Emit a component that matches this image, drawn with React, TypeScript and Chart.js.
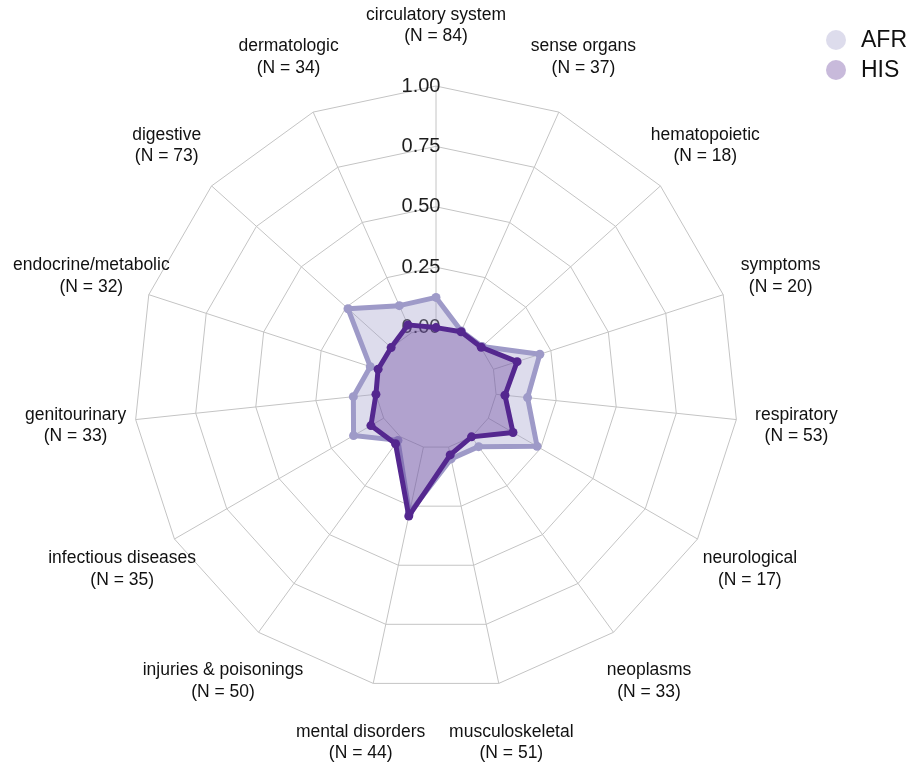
import React, { useEffect, useRef } from 'react';
import { Chart, registerables } from 'chart.js';

Chart.register(...registerables);

const categories = [
  'circulatory system',
  'sense organs',
  'hematopoietic',
  'symptoms',
  'respiratory',
  'neurological',
  'neoplasms',
  'musculoskeletal',
  'mental disorders',
  'injuries & poisonings',
  'infectious diseases',
  'genitourinary',
  'endocrine/metabolic',
  'digestive',
  'dermatologic',
];
const counts = [84, 37, 18, 20, 53, 17, 33, 51, 44, 50, 35, 33, 32, 73, 34];

const seriesNames = ['AFR', 'HIS'];
const afrValues = [0.125, 0.008, 0.007, 0.202, 0.131, 0.233, 0.05, 0.05, 0.28, 0.018, 0.144, 0.094, 0.036, 0.24, 0.123];
const hisValues = [0.0, 0.005, 0.002, 0.103, 0.037, 0.118, 0.0, 0.033, 0.292, 0.035, 0.061, 0.0, 0.002, 0.0, 0.036];

const tickValues = [0, 0.25, 0.5, 0.75, 1];
const scaleMin = -0.25;
const scaleMax = 1;

const FONT = "'Liberation Sans', Arial, Helvetica, sans-serif";
const GRID = '#c4c4c4';
const AFR_LINE = '#9e9ac8';
const AFR_FILL = 'rgba(158,154,200,0.35)';
const HIS_LINE = '#54278f';
const HIS_FILL = 'rgba(84,39,143,0.32)';

const decorPlugin = {
  id: 'radarDecor',
  beforeDatasetsDraw(chart: any) {
    const scale = chart.scales.r;
    const ctx = chart.ctx;
    const n = chart.data.labels.length;
    ctx.save();
    // spokes from the 0.00 ring to the outer ring
    ctx.strokeStyle = GRID;
    ctx.lineWidth = 1;
    for (let i = 0; i < n; i++) {
      const a = scale.getPointPositionForValue(i, 0);
      const b = scale.getPointPositionForValue(i, scaleMax);
      ctx.beginPath();
      ctx.moveTo(a.x, a.y);
      ctx.lineTo(b.x, b.y);
      ctx.stroke();
    }
    // radial tick labels
    ctx.font = `20px ${FONT}`;
    ctx.fillStyle = '#1e1e1e';
    ctx.textAlign = 'center';
    ctx.textBaseline = 'middle';
    tickValues.forEach((v) => {
      const d = scale.getDistanceFromCenterForValue(v);
      ctx.fillText(v.toFixed(2), scale.xCenter - 15, scale.yCenter - d);
    });
    // category labels
    ctx.font = `17.5px ${FONT}`;
    ctx.fillStyle = '#111';
    const lh = 21.5;
    chart.data.labels.forEach((lab: any, i: number) => {
      const p = scale.getPointPosition(i, scale.drawingArea * 1.2);
      const lines = Array.isArray(lab) ? lab : [lab];
      const y0 = p.y - ((lines.length - 1) * lh) / 2;
      lines.forEach((t: string, j: number) => ctx.fillText(t, p.x, y0 + j * lh));
    });
    ctx.restore();
  },
  afterDraw(chart: any) {
    const ctx = chart.ctx;
    ctx.save();
    const x = chart.width - 81;
    chart.data.datasets.forEach((ds: any, i: number) => {
      const y = 40 + i * 30;
      ctx.beginPath();
      ctx.arc(x, y, 10, 0, Math.PI * 2);
      ctx.fillStyle = ds.backgroundColor;
      ctx.fill();
      ctx.fillStyle = '#111';
      ctx.font = `23px ${FONT}`;
      ctx.textAlign = 'left';
      ctx.textBaseline = 'middle';
      ctx.fillText(ds.label, x + 25, y + 1);
    });
    ctx.restore();
  },
};

export default function App() {
  const ref = useRef<HTMLCanvasElement | null>(null);
  useEffect(() => {
    if (!ref.current) return;
    const chart = new Chart(ref.current, {
      type: 'radar',
      data: {
        labels: categories.map((c, i) => [c, `(N = ${counts[i]})`]),
        datasets: [
          {
            label: seriesNames[0],
            data: afrValues,
            borderColor: AFR_LINE,
            backgroundColor: AFR_FILL,
            pointBackgroundColor: AFR_LINE,
            pointBorderColor: AFR_LINE,
            pointBorderWidth: 0,
            pointRadius: 4.5,
            borderWidth: 5,
            borderJoinStyle: 'round',
            fill: 'start',
            order: 1,
          },
          {
            label: seriesNames[1],
            data: hisValues,
            borderColor: HIS_LINE,
            backgroundColor: HIS_FILL,
            pointBackgroundColor: HIS_LINE,
            pointBorderColor: HIS_LINE,
            pointBorderWidth: 0,
            pointRadius: 4.5,
            borderWidth: 5,
            borderJoinStyle: 'round',
            fill: 'start',
            order: 0,
          },
        ],
      } as any,
      options: {
        responsive: false,
        animation: false,
        layout: { padding: { left: 134, top: 86, right: 179, bottom: 75 } },
        plugins: { legend: { display: false }, tooltip: { enabled: false } },
        elements: { line: { tension: 0 } },
        scales: {
          r: {
            min: scaleMin,
            max: scaleMax,
            ticks: { display: false, stepSize: 0.25 },
            grid: { color: GRID, lineWidth: 1 },
            angleLines: { display: false },
            pointLabels: { display: false },
          },
        },
      } as any,
      plugins: [decorPlugin],
    });
    return () => chart.destroy();
  }, []);
  return (
    <div style={{ position: 'absolute', left: 0, top: 0, width: 917, height: 765, background: '#fff' }}>
      <canvas ref={ref} width={917} height={765} style={{ display: 'block' }} />
    </div>
  );
}
